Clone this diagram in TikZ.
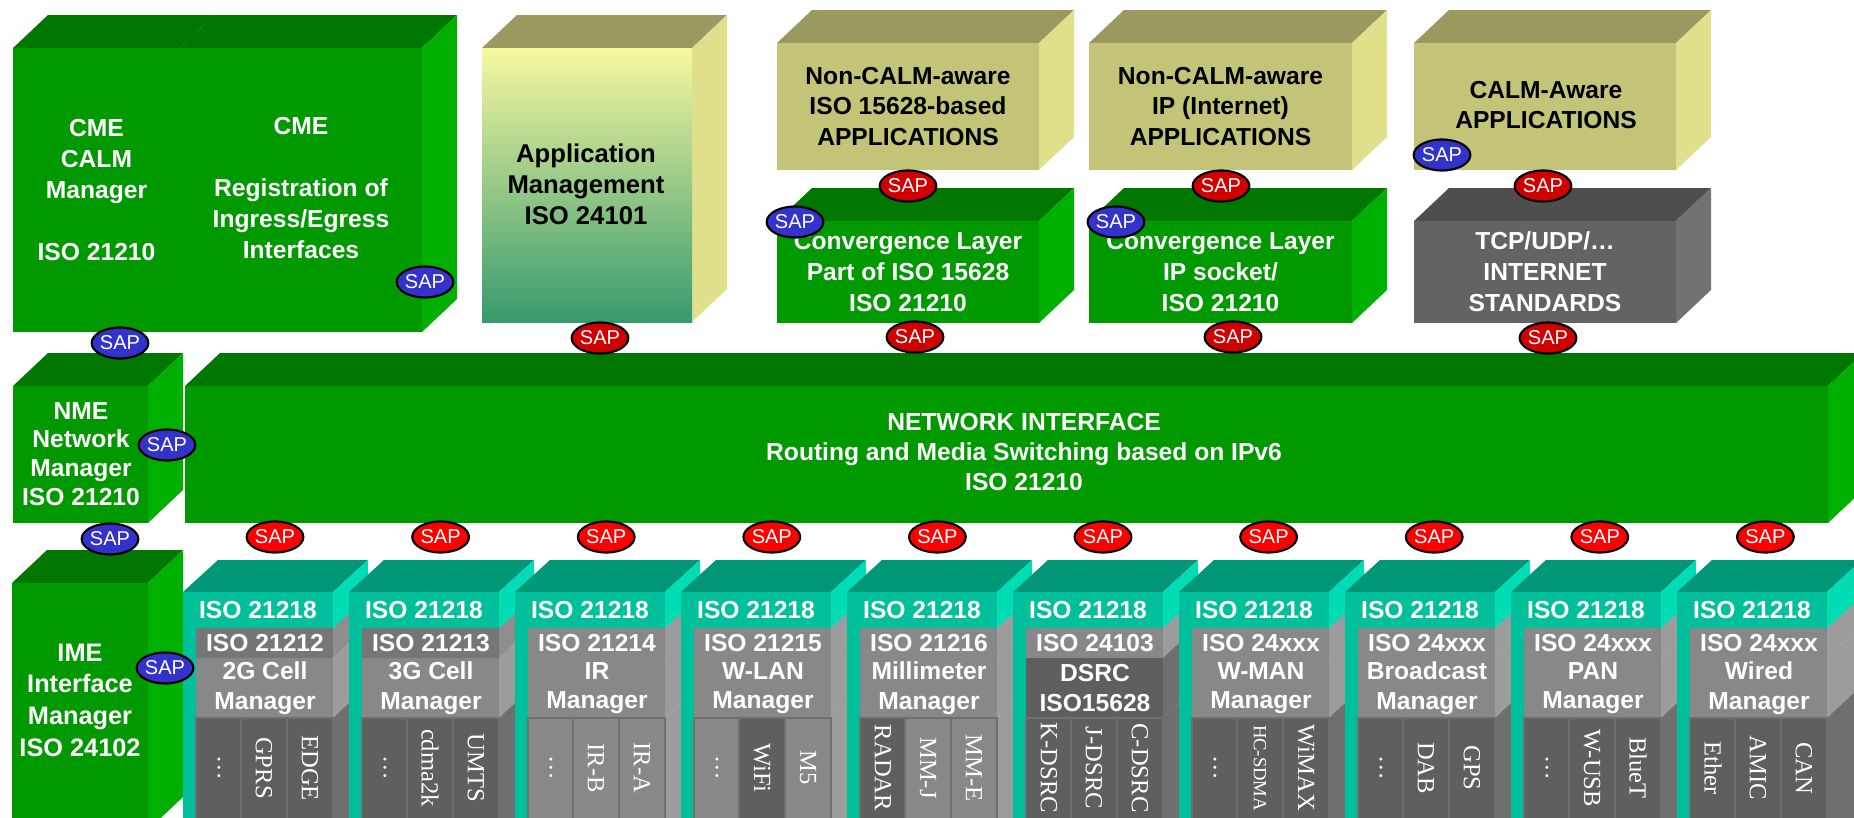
\documentclass[tikz,border=0pt]{standalone}
\usepackage{fontspec}
\setmainfont{Liberation Sans}
\newfontfamily\stripfont{Liberation Serif}
\usetikzlibrary{shapes.geometric}

\definecolor{greenF}{HTML}{009900}
\definecolor{greenT}{HTML}{007700}
\definecolor{greenS}{HTML}{00B000}
\definecolor{oliveF}{HTML}{C4C479}
\definecolor{oliveT}{HTML}{999960}
\definecolor{oliveS}{HTML}{E0E08C}
\definecolor{appTop}{HTML}{F8F8A0}
\definecolor{appBot}{HTML}{379A6E}
\definecolor{greyF}{HTML}{636363}
\definecolor{greyT}{HTML}{4E4E4E}
\definecolor{greyS}{HTML}{727272}
\definecolor{tealF}{HTML}{00C09C}
\definecolor{tealT}{HTML}{009678}
\definecolor{tealS}{HTML}{00DDB4}
\definecolor{rowd}{HTML}{5F5F5F}
\definecolor{rowl}{HTML}{888888}
\definecolor{rowm}{HTML}{767676}
\definecolor{sided}{HTML}{6F6F6F}
\definecolor{sidel}{HTML}{9C9C9C}
\definecolor{sidem}{HTML}{8E8E8E}
\definecolor{sapB}{HTML}{3333CC}
\definecolor{sapR}{HTML}{FF0000}
\definecolor{sapRd}{HTML}{D00000}

\tikzset{
  greenfront/.style={fill=greenF}, greentop/.style={fill=greenT}, greenside/.style={fill=greenS},
  olivefront/.style={fill=oliveF}, olivetop/.style={fill=oliveT}, oliveside/.style={fill=oliveS},
  appfront/.style={top color=appTop, bottom color=appBot}, apptop/.style={fill=oliveT}, appside/.style={fill=oliveS},
  greyfront/.style={fill=greyF}, greytop/.style={fill=greyT}, greyside/.style={fill=greyS},
  boxtext/.style={text=white, align=center, font=\fontsize{7}{8.8}\selectfont\bfseries},
  boxtextdark/.style={boxtext, text=black},
  modtext/.style={boxtext, font=\fontsize{7}{8.4}\selectfont\bfseries},
  striptxt/.style={text=white, rotate=-90, font=\stripfont\fontsize{7}{8}\selectfont},
  sapblue/.style={ellipse, draw=black, line width=0.6pt, fill=sapB, text=white, inner sep=0pt,
    minimum width=0.54cm, minimum height=0.31cm, font=\fontsize{5.7}{6}\selectfont},
  sapred/.style={sapblue, fill=sapR},
  sapdark/.style={sapblue, fill=sapRd}
}

% 3D box: name, x1, y1, x2, y2, colour set
\newcommand{\calmbox}[6]{%
  \path[#6top] (#2,#3) -- ++(35,-33) -- ({#4+35},{#3-33}) -- (#4,#3) -- cycle;
  \path[#6side] (#4,#3) -- ++(35,-33) -- ({#4+35},{#5-33}) -- (#4,#5) -- cycle;
  \path[#6front] (#2,#3) rectangle (#4,#5);
  \coordinate (#1) at ({(#2+#4)/2},{(#3+#5)/2});
}

\begin{document}
\begin{tikzpicture}[x=0.01cm,y=-0.01cm]
  \useasboundingbox (0,0) rectangle (1854,818);
  \clip (0,0) rectangle (1854,818);

  \calmbox{cmecalm}{13}{48}{180}{332}{green}
  \calmbox{cmereg}{180}{48}{422}{332}{green}
  \calmbox{appmgmt}{482}{48}{692}{322}{app}
  \calmbox{noncalmiso}{777}{43}{1039}{170}{olive}
  \calmbox{noncalmip}{1089}{43}{1352}{170}{olive}
  \calmbox{calmaware}{1414}{43}{1676}{170}{olive}
  \calmbox{conviso}{777}{221}{1039}{323}{green}
  \calmbox{convip}{1089}{221}{1352}{323}{green}
  \calmbox{tcpudp}{1414}{221}{1676}{323}{grey}
  \calmbox{nme}{13}{386}{148}{523}{green}
  \calmbox{netif}{185}{386}{1828}{523}{green}
  \calmbox{ime}{12}{583}{148}{830}{green}

  \node[boxtext] (cmecalmtxt) at (cmecalm) {CME\\CALM\\Manager\\[8.8pt]ISO 21210};
  \node[boxtext] (cmeregtxt) at (301,188) {CME\\[8.8pt]Registration of\\Ingress/Egress\\Interfaces};
  \node[boxtextdark, font=\fontsize{7.3}{8.8}\selectfont\bfseries] (appmgmttxt) at (586,184) {Application\\Management\\ISO 24101};
  \node[boxtextdark] (noncalmisotxt) at (noncalmiso) {Non-CALM-aware\\ISO 15628-based\\APPLICATIONS};
  \node[boxtextdark] (noncalmiptxt) at (noncalmip) {Non-CALM-aware\\IP (Internet)\\APPLICATIONS};
  \node[boxtextdark] (calmawaretxt) at (1546,105) {CALM-Aware\\APPLICATIONS};
  \node[boxtext] (convisotxt) at (conviso) {Convergence Layer\\Part of ISO 15628\\ISO 21210};
  \node[boxtext] (conviptxt) at (convip) {Convergence Layer\\IP socket/\\ISO 21210};
  \node[boxtext] (tcpudptxt) at (tcpudp) {TCP/UDP/\ldots\\INTERNET\\STANDARDS};
  \node[boxtext, font=\fontsize{7}{8.2}\selectfont\bfseries] (nmetxt) at (81,454) {NME\\Network\\Manager\\ISO 21210};
  \node[boxtext, font=\fontsize{7}{8.5}\selectfont\bfseries] (netiftxt) at (1024,452) {NETWORK INTERFACE\\Routing and Media Switching based on IPv6\\ISO 21210};
  \node[boxtext, font=\fontsize{7.2}{9}\selectfont\bfseries] (imetxt) at (80,700) {IME\\Interface\\Manager\\ISO 24102};

  \foreach \i/\iso/\nA/\nB/\rA/\rB/\sA/\sB/\sC/\cA/\cB/\cC in {
    0/21212/2G Cell/Manager/m/l/\ldots/GPRS/EDGE/d/d/d,
    1/21213/3G Cell/Manager/m/l/\ldots/cdma2k/UMTS/d/d/d,
    2/21214/IR/Manager/l/l/\ldots/IR-B/IR-A/l/l/l,
    3/21215/W-LAN/Manager/l/l/\ldots/WiFi/M5/l/d/l,
    4/21216/Millimeter/Manager/l/l/RADAR/MM-J/MM-E/d/l/l,
    5/24103/DSRC/ISO15628/l/d/K-DSRC/J-DSRC/C-DSRC/d/d/d,
    6/24xxx/W-MAN/Manager/l/l/\ldots/{\fontsize{5.3}{6}\selectfont HC-SDMA}/WiMAX/d/d/d,
    7/24xxx/Broadcast/Manager/l/l/\ldots/DAB/GPS/d/d/d,
    8/24xxx/PAN/Manager/l/l/\ldots/W-USB/BlueT/d/d/d,
    9/24xxx/Wired/Manager/l/l/Ether/AMIC/CAN/d/d/d}{
    \pgfmathsetmacro{\mx}{183+166*\i}
    \path[fill=tealF] (\mx,592) rectangle ({\mx+150},830);
    \path[fill=side\rA] ({\mx+150},628) -- ++(35,-33) -- ++(0,30) -- ({\mx+150},658) -- cycle;
    \path[fill=side\rB] ({\mx+150},658) -- ++(35,-33) -- ++(0,60) -- ({\mx+150},718) -- cycle;
    \path[fill=side\cC] ({\mx+150},718) -- ++(35,-33) -- ++(0,130) -- ({\mx+150},848) -- cycle;
    \path[fill=row\rA] ({\mx+13},628) rectangle ({\mx+150},658);
    \path[fill=row\rB] ({\mx+13},658) rectangle ({\mx+150},718);
    \path[fill=row\cA, draw=sided, line width=0.4pt] ({\mx+13},718) rectangle ({\mx+58},830);
    \path[fill=row\cB, draw=sided, line width=0.4pt] ({\mx+58},718) rectangle ({\mx+104},830);
    \path[fill=row\cC, draw=sided, line width=0.4pt] ({\mx+104},718) rectangle ({\mx+150},830);
    \path[fill=tealT] (\mx,592) -- ++(35,-32) -- ++(150,0) -- ({\mx+150},592) -- cycle;
    \path[fill=tealS] ({\mx+150},592) -- ++(35,-32) -- ++(0,36) -- ({\mx+150},628) -- cycle;
    \path[fill=tealF] (\mx,592) rectangle ({\mx+150},628);
    \node[modtext] (band\i) at ({\mx+75},610) {ISO 21218};
    \node[modtext] (iso\i) at ({\mx+82},643) {ISO \iso};
    \node[modtext] (mgr\i) at ({\mx+82},688) {\nA\\\nB};
    \node[striptxt] (proa\i) at ({\mx+36},768) {\sA};
    \node[striptxt] (prob\i) at ({\mx+81},768) {\sB};
    \node[striptxt] (proc\i) at ({\mx+127},768) {\sC};
    \node[sapred] (sapmod\i) at ({275+165.6*\i},537) {SAP};
  }

  \node[sapblue] (sapcme) at (425,282) {SAP};
  \node[sapblue] (sapcmenme) at (120,343) {SAP};
  \node[sapblue] (sapnme) at (167,445) {SAP};
  \node[sapblue] (sapnmeime) at (110,539) {SAP};
  \node[sapblue] (sapime) at (165,668) {SAP};
  \node[sapdark] (sapapp) at (600,338) {SAP};
  \node[sapdark] (sapnoniso) at (908,186) {SAP};
  \node[sapblue] (sapconviso) at (795,222) {SAP};
  \node[sapdark] (sapisodown) at (915,337) {SAP};
  \node[sapdark] (sapnonip) at (1221,186) {SAP};
  \node[sapblue] (sapconvip) at (1116,222) {SAP};
  \node[sapdark] (sapipdown) at (1233,337) {SAP};
  \node[sapblue] (sapcalm) at (1442,155) {SAP};
  \node[sapdark] (saptcp) at (1543,186) {SAP};
  \node[sapdark] (saptcpdown) at (1548,338) {SAP};
\end{tikzpicture}
\end{document}
